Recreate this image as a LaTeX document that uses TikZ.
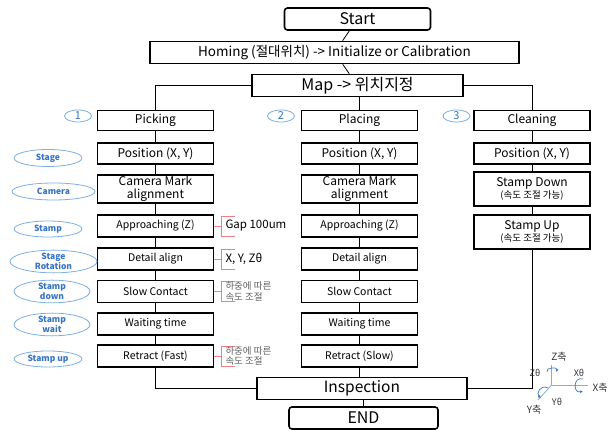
\documentclass[tikz,border=0pt]{standalone}
\usepackage{fontspec}
\setmainfont{Noto Sans CJK KR}
\usetikzlibrary{shapes.geometric,arrows.meta}
\definecolor{ellc}{RGB}{125,175,225}
\definecolor{elltxt}{RGB}{55,115,195}
\definecolor{brk}{RGB}{240,125,135}
\definecolor{notec}{RGB}{95,95,95}
\begin{document}
\begin{tikzpicture}[x=1pt,y=-1pt,
  box/.style={draw,line width=1.6pt,minimum width=116pt,minimum height=22pt,inner sep=0pt,align=center,font=\fontsize{10.5}{12}\selectfont},
  bigbox/.style={box,font=\fontsize{12}{13}\selectfont},
  rbox/.style={draw,line width=1.6pt,rounded corners=3pt,inner sep=0pt,font=\fontsize{16}{18}\selectfont},
  wide/.style={draw,line width=1.6pt,inner sep=0pt,font=\fontsize{15.5}{18}\selectfont},
  conn/.style={line width=0.8pt},
  lab/.style={ellipse,draw=ellc,line width=0.8pt,inner sep=0pt,text=elltxt,font=\bfseries\fontsize{8.5}{8.5}\selectfont,align=center},
  num/.style={ellipse,draw=ellc,line width=0.8pt,inner sep=0pt,minimum width=27pt,minimum height=12pt,text=elltxt,font=\fontsize{11}{11}\selectfont},
  brkline/.style={draw=brk,line width=0.8pt},
  note/.style={anchor=west,inner sep=0pt,align=left,text=notec,font=\fontsize{9.5}{10.5}\selectfont},
  axc/.style={draw=ellc,line width=0.8pt},
  rot/.style={draw=elltxt,line width=0.7pt,-{Latex[length=3pt,width=3pt]}},
  axl/.style={inner sep=0pt,font=\fontsize{10}{10}\selectfont,text=black!80}
]
\useasboundingbox (0,0) rectangle (613,430);

% top
\node[rbox,minimum width=146pt,minimum height=22pt] (start) at (357.5,19) {Start};
\node[wide,minimum width=369pt,minimum height=22pt,font=\fontsize{13.5}{15}\selectfont] (home) at (334.5,52.5) {Homing (절대위치) -> Initialize or Calibration};
\node[wide,minimum width=211pt,minimum height=22pt,font=\fontsize{16}{18}\selectfont] (map) at (357.5,85.5) {Map -> 위치지정};

% column 1
\node[bigbox,minimum height=20pt] (p1) at (155.5,120.5) {Picking};
\node[bigbox,minimum height=21pt] (p2) at (155.5,153.5) {Position (X, Y)};
\node[bigbox,minimum height=28pt] (p3) at (155.5,189) {Camera Mark\\alignment};
\node[box] (p4) at (155.5,226) {Approaching (Z)};
\node[box] (p5) at (155.5,259) {Detail align};
\node[box] (p6) at (155.5,291.5) {Slow Contact};
\node[box] (p7) at (155.5,324) {Waiting time};
\node[box] (p8) at (155.5,356) {Retract (Fast)};

% column 2
\node[bigbox,minimum height=20pt] (q1) at (359.5,120.5) {Placing};
\node[bigbox,minimum height=21pt] (q2) at (359.5,153.5) {Position (X, Y)};
\node[bigbox,minimum height=28pt] (q3) at (359.5,189) {Camera Mark\\alignment};
\node[box] (q4) at (359.5,226) {Approaching (Z)};
\node[box] (q5) at (359.5,259) {Detail align};
\node[box] (q6) at (359.5,291.5) {Slow Contact};
\node[box] (q7) at (359.5,324) {Waiting time};
\node[box] (q8) at (359.5,356) {Retract (Slow)};

% column 3
\node[bigbox,minimum height=20pt] (c1) at (532,120.5) {Cleaning};
\node[bigbox,minimum height=21pt] (c2) at (532,153.5) {Position (X, Y)};
\node[bigbox,minimum height=34pt] (c3) at (532,189) {Stamp Down\\[-1pt]{\fontsize{9.5}{10}\selectfont (속도 조절 가능)}};
\node[bigbox,minimum height=34pt] (c4) at (532,232) {Stamp Up\\[-1pt]{\fontsize{9.5}{10}\selectfont (속도 조절 가능)}};

% bottom
\node[wide,minimum width=210pt,minimum height=22pt] (insp) at (362,388.5) {Inspection};
\node[rbox,minimum width=149pt,minimum height=22pt] (end) at (363.5,418) {END};

% connectors
\draw[conn] (start) -- (home);
\draw[conn] (home) -- (map);
\draw[conn] (map.west) -| (p1.north);
\draw[conn] (map.south -| q1) -- (q1.north);
\draw[conn] (map.east) -| (c1.north);
\foreach \a/\b in {p1/p2,p2/p3,p3/p4,p4/p5,p5/p6,p6/p7,p7/p8,
                   q1/q2,q2/q3,q3/q4,q4/q5,q5/q6,q6/q7,q7/q8,
                   c1/c2,c2/c3,c3/c4}
  \draw[conn] (\a) -- (\b);
\draw[conn] (p8.south) |- (insp.west);
\draw[conn] (q8.south) -- (q8.south |- insp.north);
\draw[conn] (c4.south) |- (insp.east);
\draw[conn] (insp.south -| end) -- (end.north);

% number ellipses
\node[num] (n1) at (78,116) {1};
\node[num] (n2) at (281,116) {2};
\node[num] (n3) at (456.5,116) {3};

% side labels
\node[lab,minimum width=68pt,minimum height=17pt] (l1) at (48,158) {Stage};
\node[lab,minimum width=83pt,minimum height=17pt] (l2) at (53.5,191.5) {Camera};
\node[lab,minimum width=68pt,minimum height=16pt] (l3) at (48,229) {Stamp};
\node[lab,minimum width=87pt,minimum height=17pt,font=\bfseries\fontsize{8.5}{9.5}\selectfont] (l4) at (53.5,261.5) {Stage\\Rotation};
\node[lab,minimum width=76pt,minimum height=17pt,font=\bfseries\fontsize{8.5}{9.5}\selectfont] (l5) at (52,291.5) {Stamp\\down};
\node[lab,minimum width=76pt,minimum height=17pt,font=\bfseries\fontsize{8.5}{9.5}\selectfont] (l6) at (52,324.5) {Stamp\\wait};
\node[lab,minimum width=68pt,minimum height=16pt] (l7) at (48,359) {Stamp up};

% brackets
\foreach \n/\t in {p4/216,p5/248,p6/281,p8/346}{
  \coordinate (bk\n) at ([xshift=7pt]\n.east);
  \draw[conn,draw=brk] (\n.east) -- (bk\n);
  \draw[brkline] ([xshift=14pt,yshift=-10pt]bk\n) -- ([yshift=-10pt]bk\n) -- ([yshift=10pt]bk\n) -- ([xshift=14pt,yshift=10pt]bk\n);
}
\node[note,text=black,font=\fontsize{11.5}{12}\selectfont] (t4) at ([xshift=4pt]bkp4) {Gap 100um};
\node[note,text=black,font=\fontsize{11.5}{12}\selectfont] (t5) at ([xshift=4pt]bkp5) {X, Y, Zθ};
\node[note] (t6) at ([xshift=4pt]bkp6) {하중에 따른\\속도 조절};
\node[note] (t8) at ([xshift=4pt]bkp8) {하중에 따른\\속도 조절};

% axes
\coordinate (o) at (551.5,385);
\coordinate (zt) at (551.5,365);
\coordinate (xt) at (588,385);
\coordinate (yt) at (538,400);
\draw[axc] (o) -- (zt);
\draw[axc] (o) -- (xt);
\draw[axc] (o) -- (yt);
\node[axl] (zl) at (559,357) {Z축};
\node[axl] (xl) at (600,388) {X축};
\node[axl] (yl) at (534,410) {Y축};
\node[axl,font=\fontsize{9}{9}\selectfont] (ztl) at (535,373) {Zθ};
\node[axl,font=\fontsize{9}{9}\selectfont] (xtl) at (579,373) {Xθ};
\node[axl,font=\fontsize{9}{9}\selectfont] (ytl) at (557,402) {Yθ};
% rotation arrows
\draw[rot] (547,372) .. controls (545,367) and (558,367) .. (556,372);
\draw[rot] (583,379) .. controls (573,376) and (573,394) .. (583,391);
\draw[rot] (548,388) .. controls (540,384) and (536,394) .. (541,398);
\end{tikzpicture}
\end{document}
